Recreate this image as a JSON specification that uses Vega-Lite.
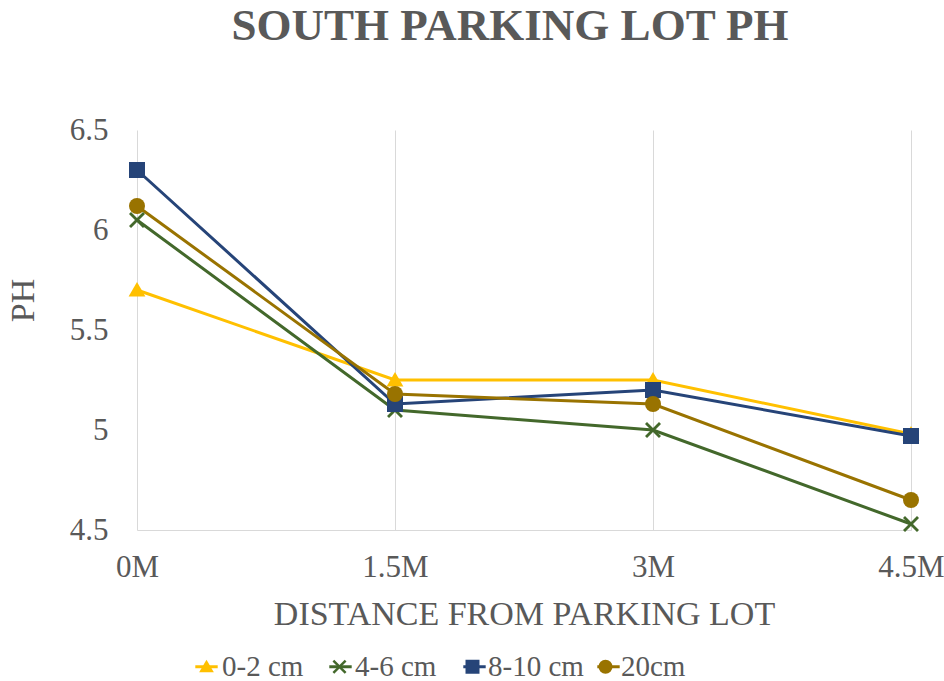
{
  "$schema": "https://vega.github.io/schema/vega-lite/v6.json",
  "autosize": "none",
  "width": 774,
  "height": 400,
  "padding": {"left": 137, "top": 130, "right": 33, "bottom": 151},
  "background": "white",
  "config": {
    "view": {"stroke": null}
  },
  "title": {
    "text": "SOUTH PARKING LOT PH",
    "font": "Liberation Serif",
    "fontSize": 45,
    "fontWeight": "bold",
    "color": "#595959",
    "anchor": "middle",
    "frame": "group",
    "offset": 65,
    "dx": -14
  },
  "data": {
    "values": [
      {"dist": "0M", "series": "0-2 cm", "ph": 5.70},
      {"dist": "1.5M", "series": "0-2 cm", "ph": 5.25},
      {"dist": "3M", "series": "0-2 cm", "ph": 5.25},
      {"dist": "4.5M", "series": "0-2 cm", "ph": 4.98},
      {"dist": "0M", "series": "4-6 cm", "ph": 6.05},
      {"dist": "1.5M", "series": "4-6 cm", "ph": 5.10},
      {"dist": "3M", "series": "4-6 cm", "ph": 5.00},
      {"dist": "4.5M", "series": "4-6 cm", "ph": 4.53},
      {"dist": "0M", "series": "8-10 cm", "ph": 6.30},
      {"dist": "1.5M", "series": "8-10 cm", "ph": 5.13},
      {"dist": "3M", "series": "8-10 cm", "ph": 5.20},
      {"dist": "4.5M", "series": "8-10 cm", "ph": 4.97},
      {"dist": "0M", "series": "20cm", "ph": 6.12},
      {"dist": "1.5M", "series": "20cm", "ph": 5.18},
      {"dist": "3M", "series": "20cm", "ph": 5.13},
      {"dist": "4.5M", "series": "20cm", "ph": 4.65}
    ]
  },
  "encoding": {
    "x": {
      "field": "dist",
      "type": "ordinal",
      "sort": ["0M", "1.5M", "3M", "4.5M"],
      "scale": {"type": "point", "padding": 0},
      "axis": {
        "title": "DISTANCE FROM PARKING LOT",
        "labelAngle": 0,
        "labelFont": "Liberation Serif",
        "labelFontSize": 31,
        "labelColor": "#595959",
        "labelPadding": 22,
        "titleFont": "Liberation Serif",
        "titleFontSize": 34,
        "titleFontWeight": "normal",
        "titleColor": "#595959",
        "titlePadding": 15,
        "ticks": false,
        "grid": true,
        "gridColor": "#d9d9d9",
        "gridWidth": 1,
        "domainColor": "#d9d9d9",
        "domainWidth": 1
      }
    },
    "y": {
      "field": "ph",
      "type": "quantitative",
      "scale": {"domain": [4.5, 6.5], "nice": false, "zero": false},
      "axis": {
        "title": "PH",
        "values": [4.5, 5, 5.5, 6, 6.5],
        "format": "~g",
        "labelFont": "Liberation Serif",
        "labelFontSize": 31,
        "labelColor": "#595959",
        "labelPadding": 29,
        "titleFont": "Liberation Serif",
        "titleFontSize": 34,
        "titleFontWeight": "normal",
        "titleColor": "#595959",
        "titleAngle": -90,
        "titleX": -114,
        "titleY": 170,
        "titleAlign": "center",
        "titleBaseline": "middle",
        "ticks": false,
        "grid": false,
        "domain": false
      }
    }
  },
  "layer": [
    {
      "mark": {"type": "line", "strokeWidth": 3},
      "encoding": {
        "stroke": {
          "field": "series",
          "type": "nominal",
          "sort": ["0-2 cm", "4-6 cm", "8-10 cm", "20cm"],
          "scale": {"range": ["#FFC000", "#43682B", "#264478", "#997300"]},
          "legend": {
            "title": null,
            "orient": "none",
            "legendX": 55,
            "legendY": 522,
            "direction": "horizontal",
            "columns": 4,
            "gridAlign": "all",
            "labelExpr": "''",
            "labelFont": "Liberation Serif",
            "labelFontSize": 29,
            "labelColor": "#595959",
            "labelOffset": 1,
            "columnPadding": 99,
            "symbolSize": 196,
            "symbolType": "M-1.6,0H1.6",
            "symbolStrokeWidth": 3,
            "symbolOpacity": 1
          }
        }
      }
    },
    {
      "mark": {"type": "point", "filled": true, "opacity": 1, "size": 256, "strokeWidth": 0},
      "encoding": {
        "color": {
          "field": "series",
          "type": "nominal",
          "scale": {
            "domain": ["0-2 cm", "4-6 cm", "8-10 cm", "20cm"],
            "range": ["#FFC000", "#43682B", "#264478", "#997300"]
          },
          "legend": {
            "title": null,
            "orient": "none",
            "legendX": 55,
            "legendY": 522,
            "direction": "horizontal",
            "columns": 4,
            "gridAlign": "all",
            "labelFont": "Liberation Serif",
            "labelFontSize": 29,
            "labelColor": "#595959",
            "labelOffset": 1,
            "columnPadding": 7,
            "symbolSize": 196,
            "symbolStrokeWidth": 0,
            "symbolOpacity": 1
          }
        },
        "shape": {
          "field": "series",
          "type": "nominal",
          "scale": {
            "domain": ["0-2 cm", "4-6 cm", "8-10 cm", "20cm"],
            "range": [
              "M0,-1L1.05,0.8H-1.05Z",
              "M-0.75,-1L0,-0.25L0.75,-1L1,-0.75L0.25,0L1,0.75L0.75,1L0,0.25L-0.75,1L-1,0.75L-0.25,0L-1,-0.75Z",
              "M-1,-1H1V1H-1Z",
              "circle"
            ]
          },
          "legend": {
            "title": null,
            "orient": "none",
            "legendX": 55,
            "legendY": 522,
            "direction": "horizontal",
            "columns": 4,
            "gridAlign": "all",
            "labelFont": "Liberation Serif",
            "labelFontSize": 29,
            "labelColor": "#595959",
            "labelOffset": 1,
            "columnPadding": 7,
            "symbolSize": 196,
            "symbolStrokeWidth": 0,
            "symbolOpacity": 1
          }
        }
      }
    }
  ]
}
